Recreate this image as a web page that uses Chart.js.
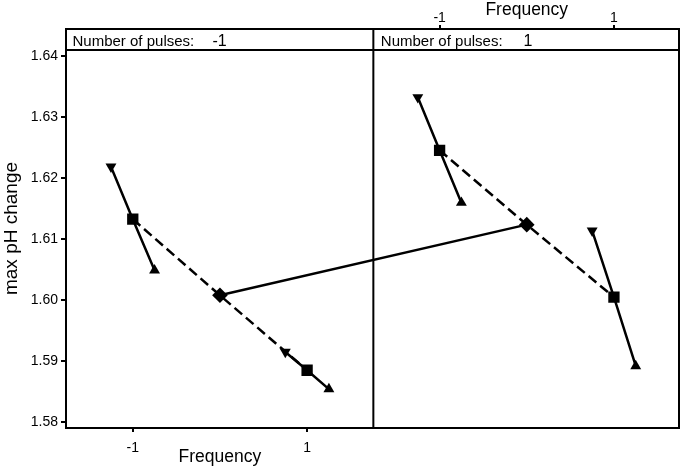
<!DOCTYPE html>
<html>
<head>
<meta charset="utf-8">
<script src="https://cdn.jsdelivr.net/npm/chart.js@4/dist/chart.umd.min.js"></script>
<style>
  html, body { margin: 0; padding: 0; background: #fff; }
  canvas { display: block; }
</style>
</head>
<body>
<canvas id="phChart" width="685" height="469"></canvas>
<script>
// frequency positions within each panel (triangles sit slightly off the level)
const lowFreqX = [-1.25, -1, -0.75];
const highFreqX = [0.75, 1, 1.25];
const meanX = [-1, 0, 1];

// Number of pulses: -1
const pulsesM1Low = [1.6219, 1.6133, 1.6049];
const pulsesM1High = [1.5915, 1.5885, 1.5854];
const pulsesM1Mean = [1.6133, 1.6008, 1.5885];

// Number of pulses: 1
const pulsesP1Low = [1.6333, 1.6246, 1.6160];
const pulsesP1High = [1.6114, 1.6005, 1.5892];
const pulsesP1Mean = [1.6246, 1.6124, 1.6005];

const panelOffset = 3.52;
const freqTicks = [-1, 1];
const yTicks = [1.58, 1.59, 1.60, 1.61, 1.62, 1.63, 1.64];
const panelLabels = ['-1', '1'];

const font = "'Liberation Sans', Arial, sans-serif";
const xMin = -1.766, xMax = 5.263;
const yMin = 1.57902, yMax = 1.64451;

const toPts = (xs, ys, off) => xs.map((x, i) => ({ x: x + off, y: ys[i] }));

function clusterSet(xs, ys, off) {
    return {
        data: toPts(xs, ys, off),
        borderColor: '#000',
        backgroundColor: '#000',
        borderWidth: 2.5,
        pointStyle: ['triangle', 'rect', 'triangle'],
        rotation: [180, 0, 0],
        pointRadius: [6.3, 8, 6.3],
        pointBorderWidth: 0,
        order: 1
    };
}

function meanSet(ys, off) {
    return {
        data: toPts(meanX, ys, off),
        borderColor: '#000',
        backgroundColor: '#000',
        borderWidth: 2.5,
        borderDash: [10, 5],
        pointStyle: 'rectRot',
        pointRadius: [0, 7.8, 0],
        pointBorderWidth: 0,
        order: 2
    };
}

const panelDeco = {
    id: 'panelDeco',
    beforeDatasetsDraw(chart) {
        const { ctx, chartArea: a, scales: { x } } = chart;
        const divX = x.getPixelForValue(panelOffset / 2);
        ctx.save();
        ctx.strokeStyle = '#000';
        ctx.lineWidth = 2;
        ctx.beginPath();
        ctx.moveTo(a.left, 50); ctx.lineTo(a.right, 50);
        ctx.moveTo(divX, a.top); ctx.lineTo(divX, a.bottom);
        ctx.stroke();

        ctx.fillStyle = '#000';
        ctx.textBaseline = 'alphabetic';
        [a.left + 6.5, divX + 7.5].forEach((lx, i) => {
            ctx.font = '15px ' + font;
            ctx.textAlign = 'left';
            ctx.fillText('Number of pulses:', lx, 46);
            ctx.font = '16px ' + font;
            ctx.textAlign = 'center';
            ctx.fillText(panelLabels[i], lx + 147, 46);
        });

        ctx.font = '17.5px ' + font;
        ctx.textAlign = 'center';
        ctx.fillText('Frequency', x.getPixelForValue(0), 462);
        ctx.fillText('Frequency', x.getPixelForValue(panelOffset), 15);
        ctx.restore();
    }
};

const axisLine = { display: true, color: '#000', width: 2 };
const tickMarks = (len) => ({ display: true, drawOnChartArea: false, drawTicks: true, tickLength: len, color: '#000', lineWidth: 2 });

new Chart(document.getElementById('phChart'), {
    type: 'line',
    data: {
        datasets: [
            meanSet(pulsesM1Mean, 0),
            meanSet(pulsesP1Mean, panelOffset),
            clusterSet(lowFreqX, pulsesM1Low, 0),
            clusterSet(highFreqX, pulsesM1High, 0),
            clusterSet(lowFreqX, pulsesP1Low, panelOffset),
            clusterSet(highFreqX, pulsesP1High, panelOffset),
            {
                data: [{ x: 0, y: pulsesM1Mean[1] }, { x: panelOffset, y: pulsesP1Mean[1] }],
                borderColor: '#000',
                borderWidth: 2.5,
                pointRadius: 0,
                order: 3
            }
        ]
    },
    options: {
        responsive: false,
        animation: false,
        layout: { padding: 0 },
        plugins: { legend: { display: false }, tooltip: { enabled: false } },
        scales: {
            x: {
                type: 'linear', position: 'bottom', min: xMin, max: xMax,
                afterBuildTicks: s => { s.ticks = freqTicks.map(v => ({ value: v })); },
                afterFit: s => { s.height = 41; },
                border: axisLine,
                grid: tickMarks(4),
                ticks: { color: '#000', padding: 8, font: { family: font, size: 14 }, callback: v => String(Math.round(v)) }
            },
            x2: {
                type: 'linear', position: 'top', min: xMin, max: xMax,
                afterBuildTicks: s => { s.ticks = freqTicks.map(v => ({ value: v + panelOffset })); },
                afterFit: s => { s.height = 29; },
                border: axisLine,
                grid: tickMarks(4),
                ticks: { color: '#000', padding: -2, font: { family: font, size: 14 }, callback: v => String(Math.round(v - panelOffset)) }
            },
            y: {
                type: 'linear', position: 'left', min: yMin, max: yMax,
                afterBuildTicks: s => { s.ticks = yTicks.map(v => ({ value: v })); },
                afterFit: s => { s.width = 66; },
                border: axisLine,
                grid: tickMarks(5),
                title: { display: true, text: 'max pH change', color: '#000', padding: 0, font: { family: font, size: 19 } },
                ticks: { color: '#000', padding: 3, font: { family: font, size: 14 }, callback: v => v.toFixed(2) }
            },
            y2: {
                type: 'linear', position: 'right', min: yMin, max: yMax,
                afterFit: s => { s.width = 3; },
                border: axisLine,
                grid: { display: false },
                ticks: { display: false }
            }
        }
    },
    plugins: [panelDeco]
});
</script>
</body>
</html>
